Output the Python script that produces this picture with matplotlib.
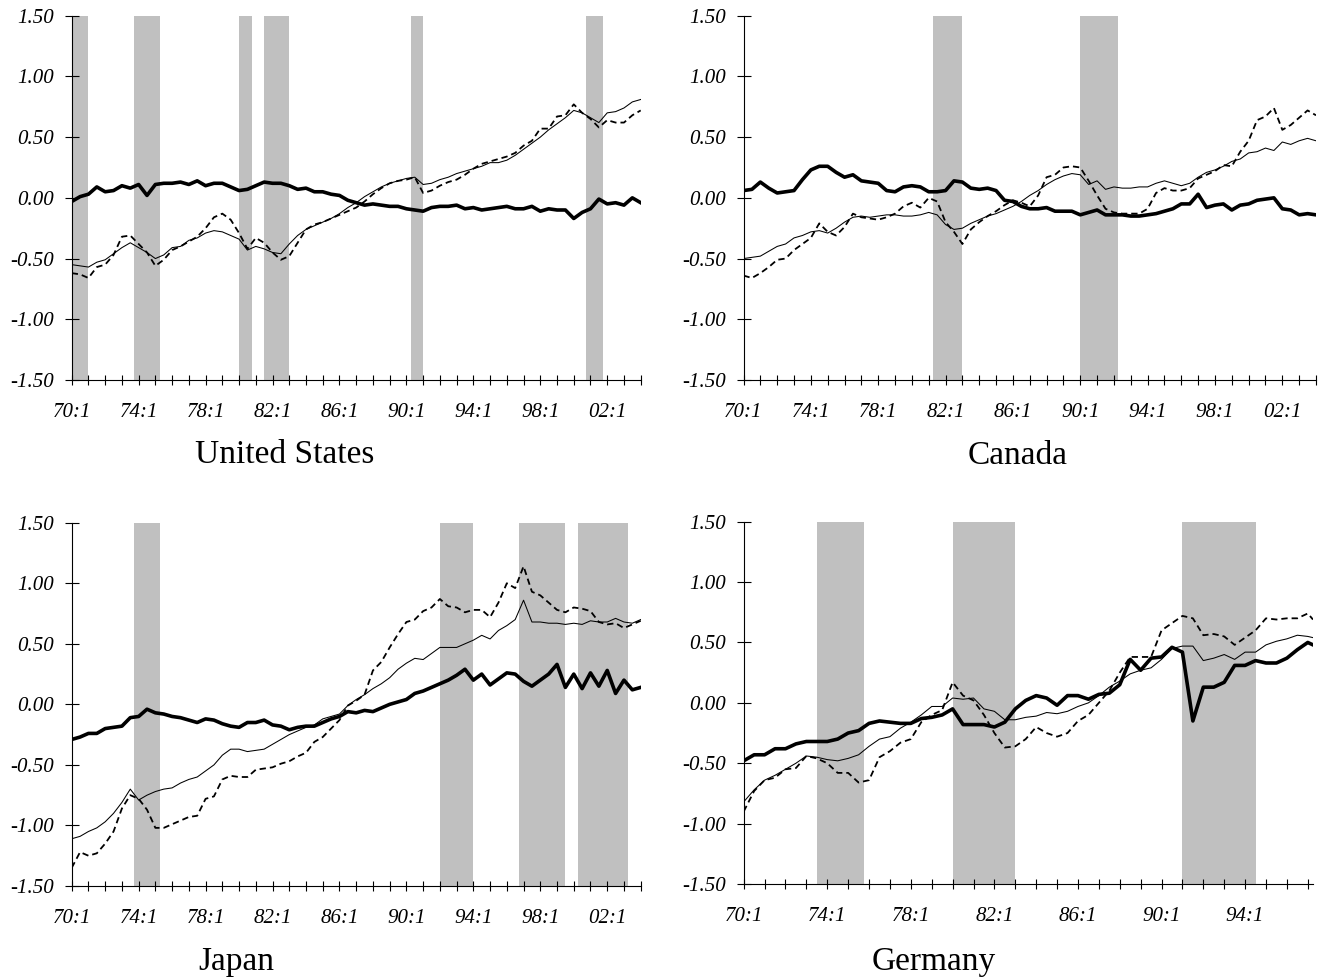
import numpy as np
import matplotlib
matplotlib.use('Agg')
import matplotlib.pyplot as plt
from matplotlib.ticker import FixedLocator, FuncFormatter

# quarterly sample, values read every second quarter (index 0 = 70:1)
countries = ['United States', 'Canada', 'Japan', 'Germany']
sample_end = {'United States': 136, 'Canada': 136, 'Japan': 136, 'Germany': 109}

us_thick = [-0.03, 0.01, 0.03, 0.09, 0.05, 0.06, 0.10, 0.08, 0.11, 0.02,
            0.11, 0.12, 0.12, 0.13, 0.11, 0.14, 0.10, 0.12, 0.12, 0.09,
            0.06, 0.07, 0.10, 0.13, 0.12, 0.12, 0.10, 0.07, 0.08, 0.05,
            0.05, 0.03, 0.02, -0.02, -0.04, -0.06, -0.05, -0.06, -0.07, -0.07,
            -0.09, -0.10, -0.11, -0.08, -0.07, -0.07, -0.06, -0.09, -0.08, -0.10,
            -0.09, -0.08, -0.07, -0.09, -0.09, -0.07, -0.11, -0.09, -0.10, -0.10,
            -0.17, -0.12, -0.09, -0.01, -0.05, -0.04, -0.06, 0.00, -0.04]
us_thin = [-0.55, -0.56, -0.57, -0.53, -0.51, -0.46, -0.41, -0.37, -0.41, -0.45,
           -0.50, -0.47, -0.41, -0.40, -0.35, -0.33, -0.29, -0.27, -0.28, -0.31,
           -0.34, -0.43, -0.40, -0.42, -0.45, -0.46, -0.38, -0.31, -0.26, -0.23,
           -0.20, -0.17, -0.13, -0.08, -0.04, 0.01, 0.05, 0.09, 0.12, 0.14,
           0.16, 0.17, 0.11, 0.12, 0.15, 0.17, 0.20, 0.22, 0.24, 0.26,
           0.29, 0.29, 0.31, 0.35, 0.40, 0.45, 0.50, 0.56, 0.61, 0.66,
           0.72, 0.70, 0.66, 0.62, 0.70, 0.71, 0.74, 0.79, 0.81]
us_dash = [-0.62, -0.63, -0.66, -0.57, -0.55, -0.47, -0.32, -0.31, -0.38, -0.45,
           -0.56, -0.51, -0.43, -0.40, -0.36, -0.32, -0.25, -0.16, -0.13, -0.18,
           -0.29, -0.42, -0.33, -0.37, -0.45, -0.51, -0.48, -0.37, -0.26, -0.22,
           -0.20, -0.17, -0.14, -0.11, -0.08, -0.03, 0.03, 0.08, 0.12, 0.14,
           0.15, 0.17, 0.04, 0.06, 0.10, 0.13, 0.15, 0.19, 0.24, 0.28,
           0.30, 0.32, 0.34, 0.37, 0.43, 0.47, 0.57, 0.57, 0.67, 0.68,
           0.77, 0.70, 0.65, 0.58, 0.64, 0.62, 0.62, 0.68, 0.72]

ca_thick = [0.06, 0.07, 0.13, 0.08, 0.04, 0.05, 0.06, 0.15, 0.23, 0.26,
            0.26, 0.21, 0.17, 0.19, 0.14, 0.13, 0.12, 0.06, 0.05, 0.09,
            0.10, 0.09, 0.05, 0.05, 0.06, 0.14, 0.13, 0.08, 0.07, 0.08,
            0.06, -0.02, -0.03, -0.07, -0.09, -0.09, -0.08, -0.11, -0.11, -0.11,
            -0.14, -0.12, -0.10, -0.14, -0.14, -0.14, -0.15, -0.15, -0.14, -0.13,
            -0.11, -0.09, -0.05, -0.05, 0.03, -0.08, -0.06, -0.05, -0.10, -0.06,
            -0.05, -0.02, -0.01, 0.00, -0.09, -0.10, -0.14, -0.13, -0.14]
ca_thin = [-0.50, -0.49, -0.48, -0.44, -0.40, -0.38, -0.33, -0.31, -0.28, -0.27,
           -0.29, -0.25, -0.20, -0.16, -0.15, -0.16, -0.15, -0.14, -0.14, -0.15,
           -0.15, -0.14, -0.12, -0.14, -0.22, -0.26, -0.25, -0.21, -0.18, -0.15,
           -0.13, -0.10, -0.07, -0.03, 0.02, 0.06, 0.11, 0.15, 0.18, 0.20,
           0.19, 0.11, 0.14, 0.07, 0.09, 0.08, 0.08, 0.09, 0.09, 0.12,
           0.14, 0.12, 0.10, 0.12, 0.17, 0.21, 0.23, 0.26, 0.30, 0.32,
           0.37, 0.38, 0.41, 0.39, 0.46, 0.44, 0.47, 0.49, 0.47]
ca_dash = [-0.64, -0.66, -0.62, -0.57, -0.51, -0.50, -0.43, -0.38, -0.33, -0.21,
           -0.28, -0.31, -0.24, -0.13, -0.16, -0.17, -0.18, -0.16, -0.13, -0.07,
           -0.04, -0.08, 0.00, -0.03, -0.20, -0.28, -0.38, -0.26, -0.20, -0.15,
           -0.11, -0.06, -0.02, -0.04, -0.07, 0.02, 0.17, 0.19, 0.25, 0.26,
           0.25, 0.14, 0.02, -0.09, -0.12, -0.13, -0.13, -0.13, -0.09, 0.04,
           0.08, 0.06, 0.06, 0.08, 0.16, 0.19, 0.22, 0.27, 0.26, 0.38,
           0.47, 0.64, 0.67, 0.74, 0.56, 0.60, 0.66, 0.72, 0.68]

jp_thick = [-0.29, -0.27, -0.24, -0.24, -0.20, -0.19, -0.18, -0.11, -0.10, -0.04,
            -0.07, -0.08, -0.10, -0.11, -0.13, -0.15, -0.12, -0.13, -0.16, -0.18,
            -0.19, -0.15, -0.15, -0.13, -0.17, -0.18, -0.21, -0.19, -0.18, -0.18,
            -0.15, -0.12, -0.10, -0.06, -0.07, -0.05, -0.06, -0.03, 0.00, 0.02,
            0.04, 0.09, 0.11, 0.14, 0.17, 0.20, 0.24, 0.29, 0.20, 0.25,
            0.16, 0.21, 0.26, 0.25, 0.19, 0.15, 0.20, 0.25, 0.33, 0.14,
            0.25, 0.13, 0.26, 0.15, 0.28, 0.09, 0.20, 0.12, 0.14]
jp_thin = [-1.11, -1.09, -1.05, -1.02, -0.97, -0.90, -0.81, -0.70, -0.79, -0.75,
           -0.72, -0.70, -0.69, -0.65, -0.62, -0.60, -0.55, -0.50, -0.42, -0.37,
           -0.37, -0.39, -0.38, -0.37, -0.33, -0.29, -0.25, -0.22, -0.19, -0.17,
           -0.12, -0.10, -0.08, -0.01, 0.04, 0.08, 0.13, 0.17, 0.22, 0.29,
           0.34, 0.38, 0.37, 0.42, 0.47, 0.47, 0.47, 0.50, 0.53, 0.57,
           0.54, 0.61, 0.65, 0.70, 0.86, 0.68, 0.68, 0.67, 0.67, 0.66,
           0.67, 0.66, 0.69, 0.68, 0.68, 0.71, 0.68, 0.67, 0.70]
jp_dash = [-1.35, -1.22, -1.25, -1.23, -1.15, -1.05, -0.86, -0.75, -0.78, -0.87,
           -1.02, -1.02, -0.99, -0.96, -0.93, -0.92, -0.78, -0.76, -0.62, -0.59,
           -0.60, -0.60, -0.54, -0.53, -0.52, -0.49, -0.47, -0.43, -0.40, -0.31,
           -0.27, -0.20, -0.13, -0.01, 0.03, 0.08, 0.28, 0.35, 0.47, 0.58,
           0.68, 0.70, 0.77, 0.80, 0.87, 0.81, 0.80, 0.76, 0.78, 0.78,
           0.72, 0.84, 1.00, 0.96, 1.14, 0.93, 0.90, 0.84, 0.78, 0.76,
           0.80, 0.79, 0.77, 0.68, 0.66, 0.67, 0.63, 0.66, 0.69]

de_thick = [-0.48, -0.43, -0.43, -0.38, -0.38, -0.34, -0.32, -0.32, -0.32, -0.30,
            -0.25, -0.23, -0.17, -0.15, -0.16, -0.17, -0.17, -0.13, -0.12, -0.10,
            -0.05, -0.18, -0.18, -0.18, -0.20, -0.16, -0.05, 0.02, 0.06, 0.04,
            -0.02, 0.06, 0.06, 0.03, 0.07, 0.08, 0.15, 0.36, 0.27, 0.37,
            0.38, 0.46, 0.42, -0.15, 0.13, 0.13, 0.17, 0.31, 0.31, 0.35,
            0.33, 0.33, 0.37, 0.44, 0.50, 0.48]
de_thin = [-0.82, -0.72, -0.64, -0.60, -0.55, -0.50, -0.44, -0.45, -0.47, -0.48,
           -0.46, -0.43, -0.36, -0.30, -0.28, -0.21, -0.16, -0.10, -0.03, -0.03,
           0.04, 0.03, 0.04, -0.05, -0.07, -0.14, -0.14, -0.12, -0.11, -0.08,
           -0.09, -0.07, -0.03, 0.00, 0.06, 0.13, 0.18, 0.24, 0.27, 0.29,
           0.36, 0.45, 0.47, 0.47, 0.35, 0.37, 0.40, 0.36, 0.42, 0.42,
           0.48, 0.51, 0.53, 0.56, 0.55, 0.54]
de_dash = [-0.90, -0.73, -0.64, -0.62, -0.55, -0.54, -0.44, -0.46, -0.50, -0.58,
           -0.58, -0.66, -0.64, -0.45, -0.40, -0.33, -0.30, -0.16, -0.10, -0.06,
           0.17, 0.06, 0.02, -0.10, -0.25, -0.37, -0.36, -0.30, -0.20, -0.25,
           -0.28, -0.25, -0.15, -0.10, 0.00, 0.10, 0.25, 0.38, 0.38, 0.38,
           0.60, 0.66, 0.72, 0.70, 0.56, 0.57, 0.55, 0.48, 0.54, 0.60,
           0.70, 0.69, 0.70, 0.70, 0.74, 0.69]

series = {
    'United States': (us_thick, us_thin, us_dash),
    'Canada': (ca_thick, ca_thin, ca_dash),
    'Japan': (jp_thick, jp_thin, jp_dash),
    'Germany': (de_thick, de_thin, de_dash),
}

# shaded periods (first quarter, last quarter)
shaded = {
    'United States': [('70:1', '71:1'), ('73:4', '75:2'), ('80:1', '80:4'),
                      ('81:3', '83:1'), ('90:2', '91:1'), ('00:4', '01:4')],
    'Canada': [('81:2', '83:1'), ('90:1', '92:2')],
    'Japan': [('73:4', '75:2'), ('92:1', '94:1'), ('96:4', '99:3'), ('00:2', '03:2')],
    'Germany': [('73:3', '75:4'), ('80:1', '83:1'), ('91:1', '94:3')],
}


def qidx(s):
    yy, q = s.split(':')
    yy = int(yy)
    yr = yy - 70 if yy >= 70 else yy + 30
    return yr * 4 + int(q) - 1


W, H = 1332, 980
fig = plt.figure(figsize=(W / 100, H / 100), dpi=100)

# axes boxes in pixels: left, right, top, bottom
boxes = {
    'United States': (71.7, 640.7, 15.7, 380),
    'Canada': (743.5, 1316, 15.7, 380),
    'Japan': (71.7, 640.7, 522.7, 886),
    'Germany': (743.7, 1313, 521.7, 884),
}
titles_at = {
    'United States': (285, 463),
    'Canada': (1018, 464),
    'Japan': (236, 970),
    'Germany': (934, 970),
}

serif = 'Liberation Serif'

for c in countries:
    l, r, t, b = boxes[c]
    ax = fig.add_axes([l / W, 1 - b / H, (r - l) / W, (b - t) / H])
    end = sample_end[c]
    x = list(range(0, end, 2)) + [end] if end % 2 else list(range(0, end + 1, 2))
    thick, thin, dash = series[c]

    for a, z in shaded[c]:
        ax.axvspan(qidx(a), qidx(z), color='#c0c0c0', lw=0, zorder=0)

    ax.plot(x, thin, color='black', lw=0.75, zorder=3)
    ax.plot(x, dash, color='black', lw=1.3, dashes=(3.5, 2.2), zorder=3)
    ax.plot(x, thick, color='black', lw=2.6, zorder=4)

    ax.set_xlim(0, end)
    ax.set_ylim(-1.5, 1.5)
    ax.set_yticks(np.arange(-1.5, 1.51, 0.5))
    ax.yaxis.set_major_formatter(FuncFormatter(lambda v, p: '%.2f' % v))
    ax.xaxis.set_major_locator(FixedLocator(list(range(0, end + 1, 16))))
    ax.xaxis.set_minor_locator(FixedLocator(list(range(0, end + 1, 4))))
    ax.xaxis.set_major_formatter(FuncFormatter(lambda v, p: '%02d:1' % ((70 + int(v) // 4) % 100)))

    for s in ['top', 'right']:
        ax.spines[s].set_visible(False)
    for s in ['left', 'bottom']:
        ax.spines[s].set_linewidth(0.8)
        ax.spines[s].set_zorder(5)

    ax.tick_params(axis='x', which='both', direction='inout', length=7.2, width=0.8, pad=13)
    ax.tick_params(axis='y', which='major', direction='inout', length=9.4, width=0.8, pad=8)
    for lab in ax.get_xticklabels() + ax.get_yticklabels():
        lab.set_fontfamily(serif)
        lab.set_fontstyle('italic')
        lab.set_fontsize(15)

    tx, ty = titles_at[c]
    fig.text(tx / W, 1 - ty / H, c, ha='center', va='baseline',
             fontfamily=serif, fontsize=24)

fig.savefig('out.png', dpi=100)
